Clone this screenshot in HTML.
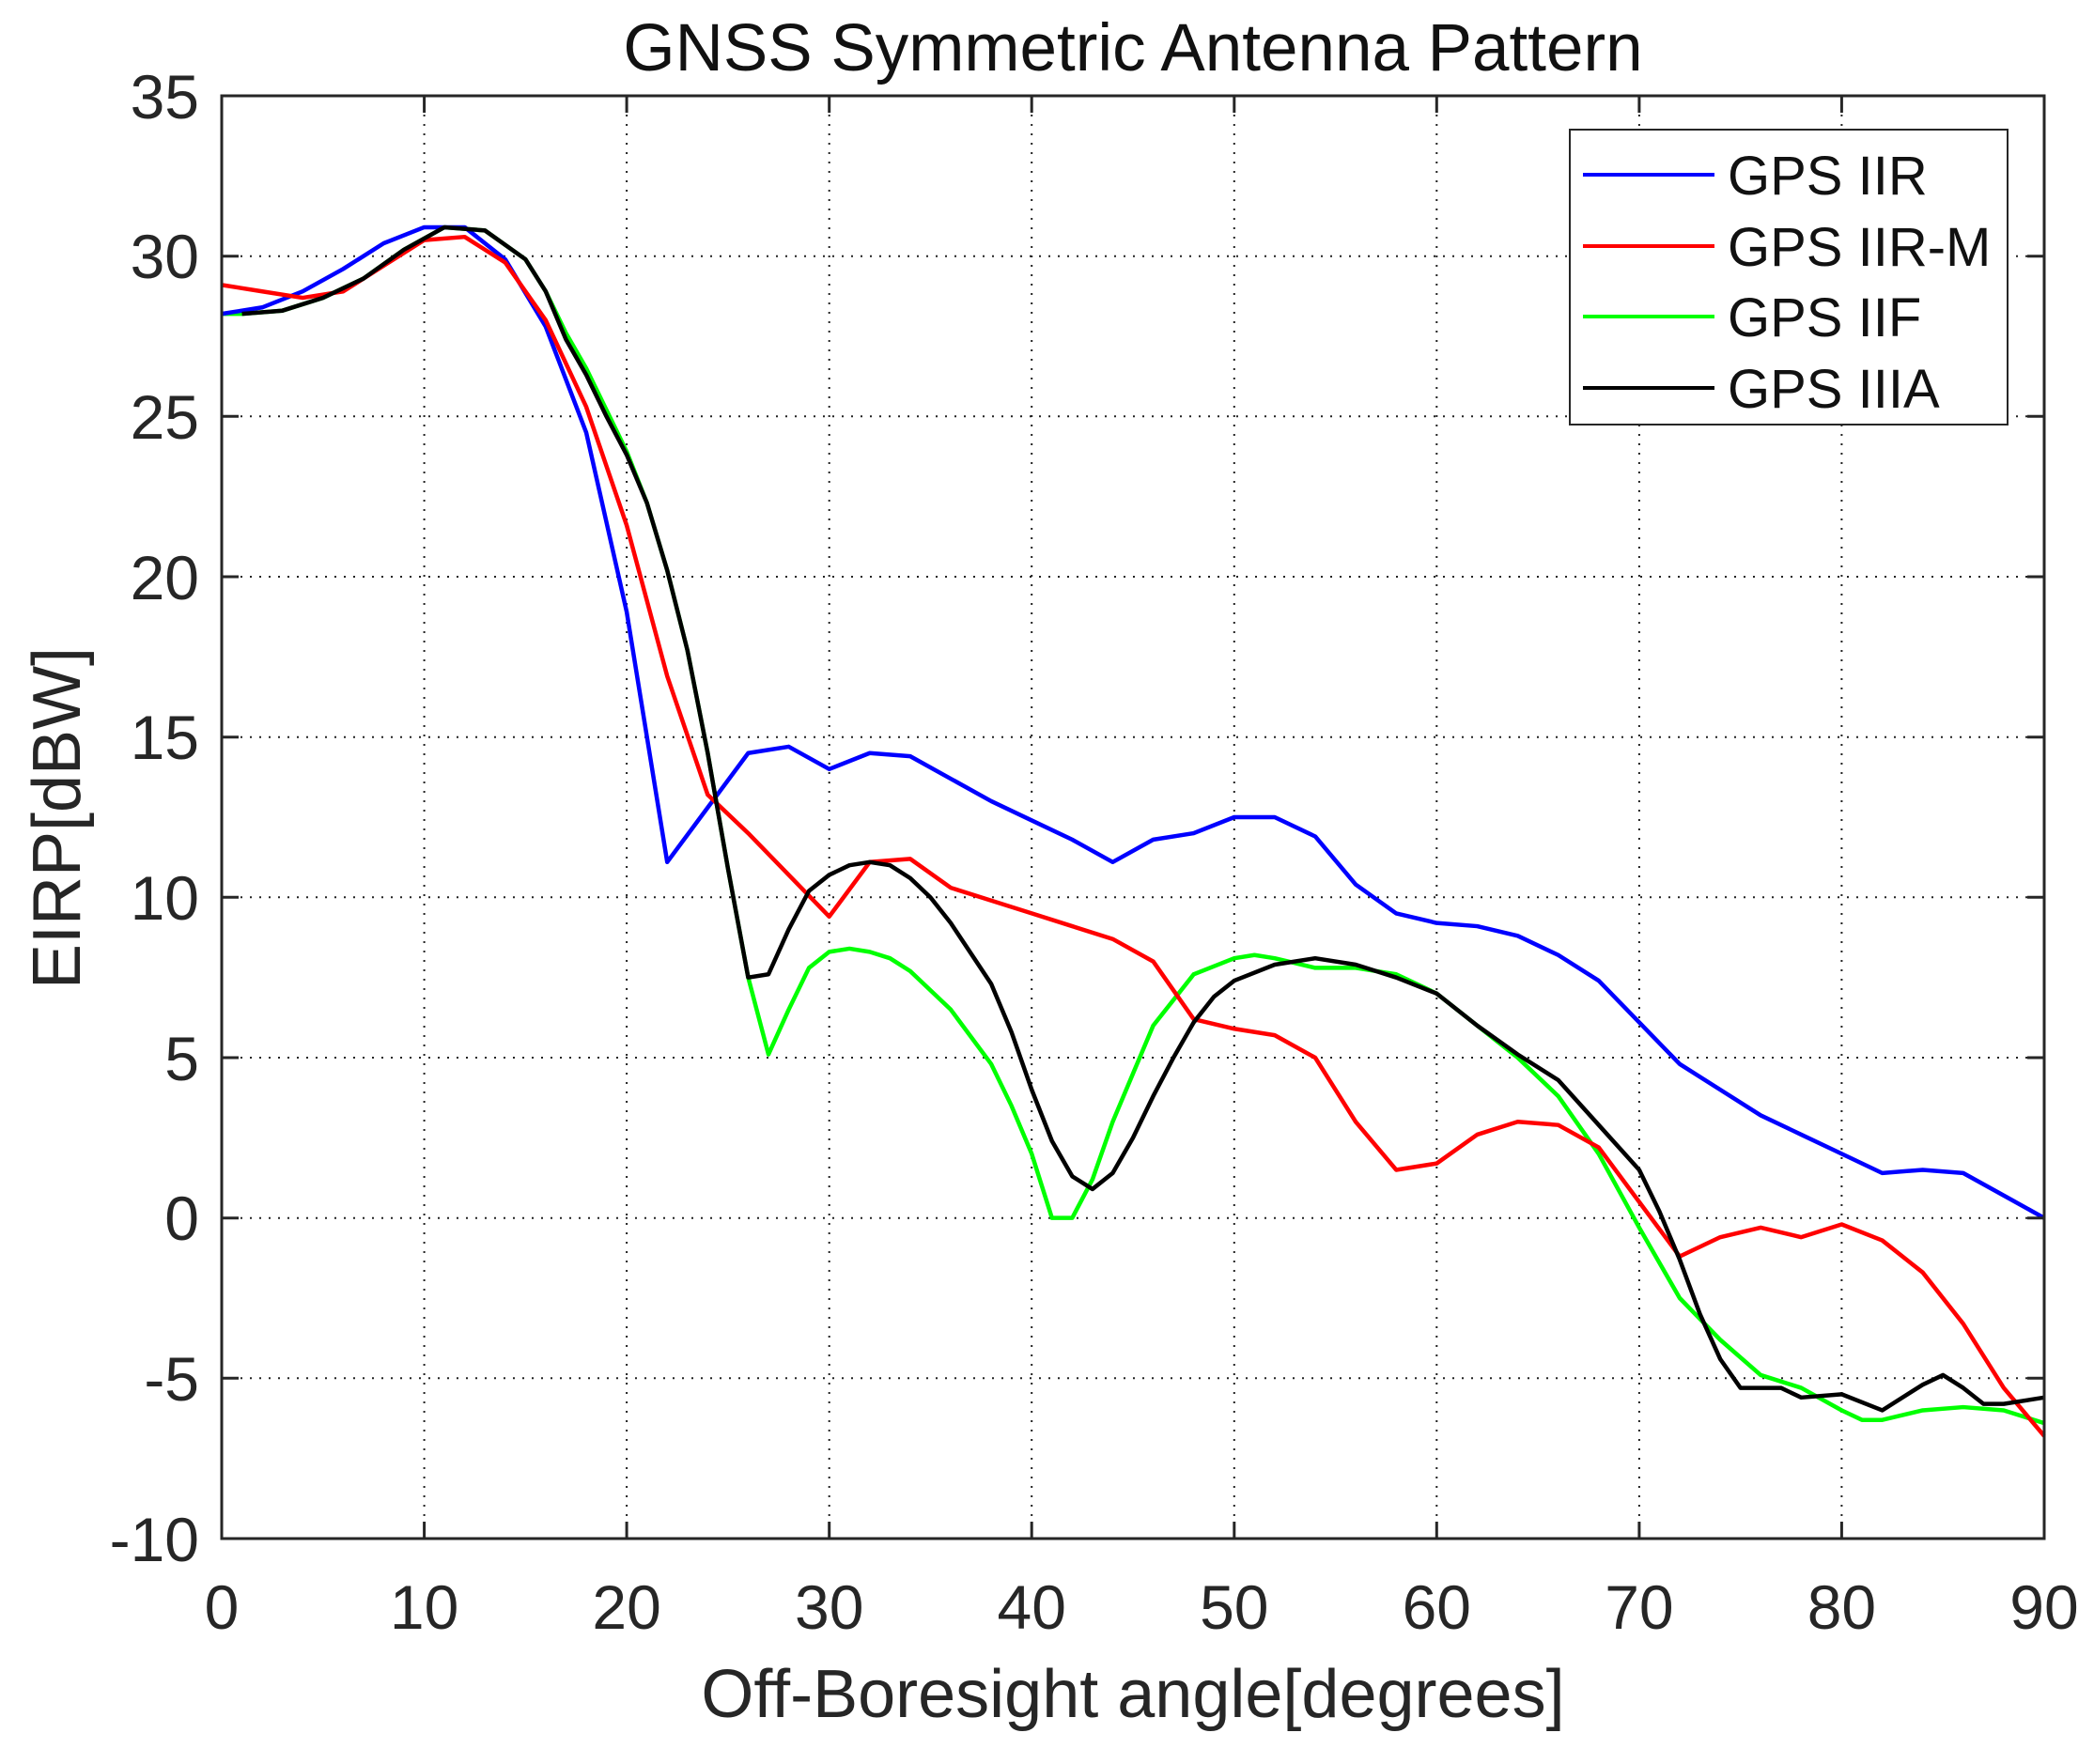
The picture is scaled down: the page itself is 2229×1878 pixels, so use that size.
<!DOCTYPE html>
<html><head><meta charset="utf-8"><style>
html,body{margin:0;padding:0;background:#fff;}
svg{display:block;font-family:"Liberation Sans",sans-serif;}
</style></head><body>
<svg width="2229" height="1878" viewBox="0 0 2229 1878" xmlns="http://www.w3.org/2000/svg">
<rect width="2229" height="1878" fill="#fff"/>
<text x="1206" y="75" font-size="71" text-anchor="middle" fill="#111">GNSS Symmetric Antenna Pattern</text>
<g stroke="#222" stroke-width="2" stroke-dasharray="2 8">
<line x1="451.6" y1="102" x2="451.6" y2="1638"/><line x1="667.1" y1="102" x2="667.1" y2="1638"/>
<line x1="882.7" y1="102" x2="882.7" y2="1638"/><line x1="1098.2" y1="102" x2="1098.2" y2="1638"/>
<line x1="1313.8" y1="102" x2="1313.8" y2="1638"/><line x1="1529.3" y1="102" x2="1529.3" y2="1638"/>
<line x1="1744.9" y1="102" x2="1744.9" y2="1638"/><line x1="1960.4" y1="102" x2="1960.4" y2="1638"/>
<line x1="236" y1="272.7" x2="2176" y2="272.7"/><line x1="236" y1="443.3" x2="2176" y2="443.3"/>
<line x1="236" y1="614" x2="2176" y2="614"/><line x1="236" y1="784.7" x2="2176" y2="784.7"/>
<line x1="236" y1="955.3" x2="2176" y2="955.3"/><line x1="236" y1="1126" x2="2176" y2="1126"/>
<line x1="236" y1="1296.7" x2="2176" y2="1296.7"/><line x1="236" y1="1467.3" x2="2176" y2="1467.3"/>
</g>
<g transform="translate(236,1296.67) scale(21.5556,-34.1333)" fill="none" stroke-width="4.5" stroke-linejoin="round">
<polyline vector-effect="non-scaling-stroke" stroke="#00ff00" points="0,28.2 1,28.2 3,28.3 5,28.7 7,29.3 9,30.2 11,30.9 13,30.8 15,29.9 16,28.9 17,27.6 18,26.5 19,25.2 20,23.9 21,22.3 22,20.2 23,17.7 24,14.5 25,10.9 26,7.5 27,5.1 28,6.5 29,7.8 30,8.3 31,8.4 32,8.3 33,8.1 34,7.7 36,6.5 38,4.8 39,3.5 40,2.0 41,0.0 42,0.0 43,1.2 44,3.0 46,6.0 48,7.6 50,8.1 51,8.2 52,8.1 54,7.8 56,7.8 58,7.6 60,7.0 62,6.0 64,5.0 66,3.8 68,2.0 70,-0.3 72,-2.5 74,-3.8 76,-4.9 78,-5.3 80,-6.0 81,-6.3 82,-6.3 84,-6.0 86,-5.9 88,-6.0 90,-6.4"/>
<polyline vector-effect="non-scaling-stroke" stroke="#0000ff" points="0,28.2 2,28.4 4,28.9 6,29.6 8,30.4 10,30.9 12,30.9 14,29.9 16,27.8 18,24.5 20,18.9 22,11.1 24,12.8 26,14.5 28,14.7 30,14.0 32,14.5 34,14.4 36,13.7 38,13.0 40,12.4 42,11.8 44,11.1 46,11.8 48,12.0 50,12.5 52,12.5 54,11.9 56,10.4 58,9.5 60,9.2 62,9.1 64,8.8 66,8.2 68,7.4 70,6.1 72,4.8 74,4.0 76,3.2 78,2.6 80,2.0 82,1.4 84,1.5 86,1.4 88,0.7 90,0.0"/>
<polyline vector-effect="non-scaling-stroke" stroke="#ff0000" points="0,29.1 2,28.9 4,28.7 6,28.9 8,29.7 10,30.5 12,30.6 14,29.8 16,28.0 18,25.3 20,21.6 22,16.9 24,13.2 26,12.0 28,10.7 30,9.4 32,11.1 34,11.2 36,10.3 38,9.9 40,9.5 42,9.1 44,8.7 46,8.0 48,6.2 50,5.9 52,5.7 54,5.0 56,3.0 58,1.5 60,1.7 62,2.6 64,3.0 66,2.9 68,2.2 70,0.5 72,-1.2 74,-0.6 76,-0.3 78,-0.6 80,-0.2 82,-0.7 84,-1.7 86,-3.3 88,-5.3 90,-6.8"/>
<polyline vector-effect="non-scaling-stroke" stroke="#000000" points="1,28.2 3,28.3 5,28.7 7,29.3 9,30.2 11,30.9 13,30.8 15,29.9 16,28.9 17,27.4 18,26.3 19,25.0 20,23.8 21,22.3 22,20.2 23,17.7 24,14.5 25,10.9 26,7.5 27,7.6 28,9.0 29,10.2 30,10.7 31,11.0 32,11.1 33,11.0 34,10.6 35,10.0 36,9.2 38,7.3 39,5.8 40,4.0 41,2.4 42,1.3 43,0.9 44,1.4 45,2.5 46,3.8 47,5.0 48,6.1 49,6.9 50,7.4 52,7.9 54,8.1 56,7.9 58,7.5 60,7.0 62,6.0 64,5.1 66,4.3 68,2.9 70,1.5 71,0.2 72,-1.3 73,-3.0 74,-4.4 75,-5.3 77,-5.3 78,-5.6 80,-5.5 82,-6.0 84,-5.2 85,-4.9 86,-5.3 87,-5.8 88,-5.8 90,-5.6"/>
</g>
<rect x="236" y="102" width="1940" height="1536" fill="none" stroke="#262626" stroke-width="3"/>
<g stroke="#262626" stroke-width="3">
<line x1="451.6" y1="1638" x2="451.6" y2="1620"/><line x1="667.1" y1="1638" x2="667.1" y2="1620"/><line x1="882.7" y1="1638" x2="882.7" y2="1620"/><line x1="1098.2" y1="1638" x2="1098.2" y2="1620"/><line x1="1313.8" y1="1638" x2="1313.8" y2="1620"/><line x1="1529.3" y1="1638" x2="1529.3" y2="1620"/><line x1="1744.9" y1="1638" x2="1744.9" y2="1620"/><line x1="1960.4" y1="1638" x2="1960.4" y2="1620"/>
<line x1="451.6" y1="102" x2="451.6" y2="120"/><line x1="667.1" y1="102" x2="667.1" y2="120"/><line x1="882.7" y1="102" x2="882.7" y2="120"/><line x1="1098.2" y1="102" x2="1098.2" y2="120"/><line x1="1313.8" y1="102" x2="1313.8" y2="120"/><line x1="1529.3" y1="102" x2="1529.3" y2="120"/><line x1="1744.9" y1="102" x2="1744.9" y2="120"/><line x1="1960.4" y1="102" x2="1960.4" y2="120"/>
<line x1="236" y1="272.7" x2="254" y2="272.7"/><line x1="236" y1="443.3" x2="254" y2="443.3"/><line x1="236" y1="614" x2="254" y2="614"/><line x1="236" y1="784.7" x2="254" y2="784.7"/><line x1="236" y1="955.3" x2="254" y2="955.3"/><line x1="236" y1="1126" x2="254" y2="1126"/><line x1="236" y1="1296.7" x2="254" y2="1296.7"/><line x1="236" y1="1467.3" x2="254" y2="1467.3"/>
<line x1="2176" y1="272.7" x2="2158" y2="272.7"/><line x1="2176" y1="443.3" x2="2158" y2="443.3"/><line x1="2176" y1="614" x2="2158" y2="614"/><line x1="2176" y1="784.7" x2="2158" y2="784.7"/><line x1="2176" y1="955.3" x2="2158" y2="955.3"/><line x1="2176" y1="1126" x2="2158" y2="1126"/><line x1="2176" y1="1296.7" x2="2158" y2="1296.7"/><line x1="2176" y1="1467.3" x2="2158" y2="1467.3"/>
</g>
<g font-size="66" fill="#262626" text-anchor="end">
<text x="212" y="126">35</text><text x="212" y="296">30</text><text x="212" y="467">25</text><text x="212" y="638">20</text><text x="212" y="808">15</text><text x="212" y="979">10</text><text x="212" y="1150">5</text><text x="212" y="1320">0</text><text x="212" y="1491">-5</text><text x="212" y="1662">-10</text>
</g>
<g font-size="66" fill="#262626" text-anchor="middle">
<text x="236" y="1734">0</text><text x="451.6" y="1734">10</text><text x="667.1" y="1734">20</text><text x="882.7" y="1734">30</text><text x="1098.2" y="1734">40</text><text x="1313.8" y="1734">50</text><text x="1529.3" y="1734">60</text><text x="1744.9" y="1734">70</text><text x="1960.4" y="1734">80</text><text x="2176" y="1734">90</text>
</g>
<text x="1206" y="1828" font-size="72" fill="#262626" text-anchor="middle">Off-Boresight angle[degrees]</text>
<text transform="translate(85,871) rotate(-90)" x="0" y="0" font-size="72" fill="#262626" text-anchor="middle">EIRP[dBW]</text>
<rect x="1671" y="138" width="466" height="314" fill="#fff" stroke="#262626" stroke-width="2"/>
<g stroke-width="4">
<line x1="1685" y1="186" x2="1825" y2="186" stroke="#0000ff"/>
<line x1="1685" y1="262" x2="1825" y2="262" stroke="#ff0000"/>
<line x1="1685" y1="337" x2="1825" y2="337" stroke="#00ff00"/>
<line x1="1685" y1="413" x2="1825" y2="413" stroke="#000000"/>
</g>
<g font-size="58" fill="#111">
<text x="1839" y="207">GPS IIR</text><text x="1839" y="283">GPS IIR-M</text><text x="1839" y="358">GPS IIF</text><text x="1839" y="434">GPS IIIA</text>
</g>
</svg>
</body></html>
